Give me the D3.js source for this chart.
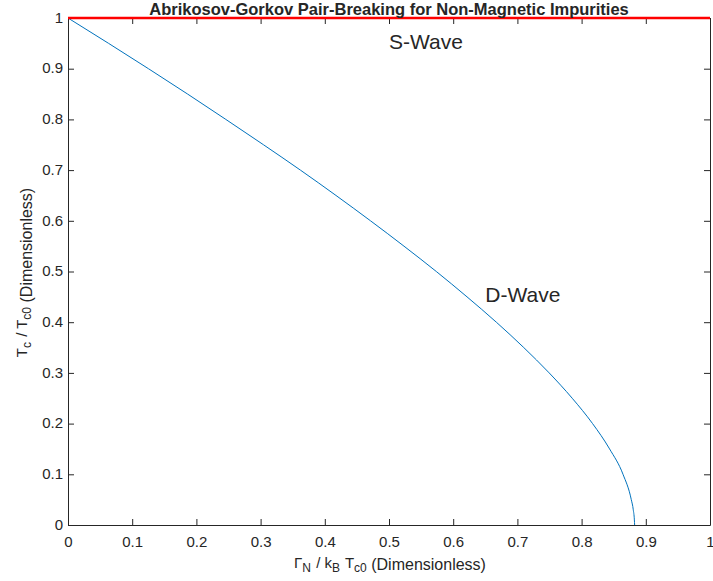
<!DOCTYPE html>
<html>
<head>
<meta charset="utf-8">
<script src="https://cdn.jsdelivr.net/npm/d3@7"></script>
<style>
body { margin: 0; background: white; }
text { font-family: "Liberation Sans", Arial, Helvetica, sans-serif; fill: #262626; }
</style>
</head>
<body>
<script>
const width = 713
const height = 581
const margin = {top: 18, left: 68, bottom: 56, right: 2}

// D-wave Tc/Tc0 curve
const dGamma = [0, 0.0632, 0.1253, 0.1863, 0.2458, 0.3045, 0.362, 0.4174, 0.4712, 0.5233, 0.5737,
    0.6215, 0.6672, 0.7099, 0.7495, 0.7854, 0.8171, 0.8436, 0.8645, 0.8774, 0.8805, 0.8822, 0.8826]
const dTc = [1, 0.95, 0.9, 0.85, 0.8, 0.75, 0.7, 0.65, 0.6, 0.55, 0.5,
    0.45, 0.4, 0.35, 0.3, 0.25, 0.2, 0.15, 0.1, 0.05, 0.03, 0.01, 0]
// S-wave stays at Tc/Tc0 = 1
const sGamma = [0, 1]
const sTc = [1, 1]

const xTicks = d3.range(0, 11).map(i => i / 10)
const yTicks = d3.range(0, 11).map(i => i / 10)
const labels = [
    {text: "S-Wave", x: 0.5, y: 0.95},
    {text: "D-Wave", x: 0.65, y: 0.45},
]

const svg = d3.select("body").append("svg")
    .attr("width", width)
    .attr("height", height)

const x = d3.scaleLinear().domain([0, 1]).range([margin.left, width - margin.right - 1])
const y = d3.scaleLinear().domain([0, 1]).range([height - margin.bottom, margin.top])

const axisColor = "#262626"
const tickLen = 6

const g = svg.append("g")

// ticks, inward, on all four sides
const fmt = d => d === 0 || d === 1 ? String(d) : d.toFixed(1)
const axBottom = g.append("g")
    .attr("transform", `translate(0,${y(0)})`)
    .call(d3.axisBottom(x).tickValues(xTicks).tickSizeInner(-tickLen).tickSizeOuter(0).tickFormat(fmt))
const axTop = g.append("g")
    .attr("transform", `translate(0,${y(1)})`)
    .call(d3.axisTop(x).tickValues(xTicks).tickSizeInner(-tickLen).tickSizeOuter(0).tickFormat(""))
const axLeft = g.append("g")
    .attr("transform", `translate(${x(0)},0)`)
    .call(d3.axisLeft(y).tickValues(yTicks).tickSizeInner(-tickLen).tickSizeOuter(0).tickFormat(fmt))
const axRight = g.append("g")
    .attr("transform", `translate(${x(1)},0)`)
    .call(d3.axisRight(y).tickValues(yTicks).tickSizeInner(-tickLen).tickSizeOuter(0).tickFormat(""))

g.selectAll(".domain").attr("stroke", axisColor)
g.selectAll(".tick line").attr("stroke", axisColor)
g.selectAll(".tick text")
    .attr("font-size", 15)
    .attr("font-family", null)
    .attr("fill", axisColor)
axBottom.selectAll(".tick text").attr("dy", null).attr("y", 22)
axLeft.selectAll(".tick text").attr("x", -5).attr("dy", "0.28em")

const line = d3.line()
    .x(d => x(d[0]))
    .y(d => y(d[1]))

g.append("path")
    .datum(dGamma.map((v, i) => [v, dTc[i]]))
    .attr("fill", "none")
    .attr("stroke", "#0072BD")
    .attr("stroke-width", 1)
    .attr("d", line.curve(d3.curveMonotoneX))

g.append("path")
    .datum(sGamma.map((v, i) => [v, sTc[i]]))
    .attr("fill", "none")
    .attr("stroke", "#ff0000")
    .attr("stroke-width", 2.5)
    .attr("d", d3.line().x(d => x(d[0])).y(d => y(d[1])))

g.selectAll("text.label")
    .data(labels)
    .enter()
    .append("text")
    .attr("class", "label")
    .attr("x", d => x(d.x))
    .attr("y", d => y(d.y))
    .attr("dominant-baseline", "middle")
    .attr("font-size", 21)
    .attr("fill", "black")
    .text(d => d.text)

// title
svg.append("text")
    .attr("x", (x(0) + x(1)) / 2)
    .attr("y", 15)
    .attr("text-anchor", "middle")
    .attr("font-size", 16.5)
    .attr("font-weight", "bold")
    .attr("fill", "black")
    .text("Abrikosov-Gorkov Pair-Breaking for Non-Magnetic Impurities")

// axis labels: TeX part a bit smaller and raised, like the original
function sub(t, s) {
    t.append("tspan").attr("font-size", 12).attr("baseline-shift", "-4").text(s)
}
function texLabel(t, parts, lift) {
    const tex = t.append("tspan").attr("font-size", 15).attr("baseline-shift", lift)
    parts.forEach(([main, s]) => {
        tex.append("tspan").attr("dx", 1).text(main)
        sub(tex, s)
        tex.append("tspan").attr("dx", 3).text("")
    })
    t.append("tspan").attr("font-size", 16).text(" (Dimensionless)")
}

const xl = svg.append("text")
    .attr("x", (x(0) + x(1)) / 2)
    .attr("y", 570)
    .attr("text-anchor", "middle")
texLabel(xl, [["Γ", "N"], [" / k", "B"], [" T", "c0"]], 2)

const yl = svg.append("text")
    .attr("transform", `translate(32,${(y(0) + y(1)) / 2 + 2}) rotate(-90)`)
    .attr("text-anchor", "middle")
texLabel(yl, [["T", "c"], [" / T", "c0"]], 5)
</script>
</body>
</html>
